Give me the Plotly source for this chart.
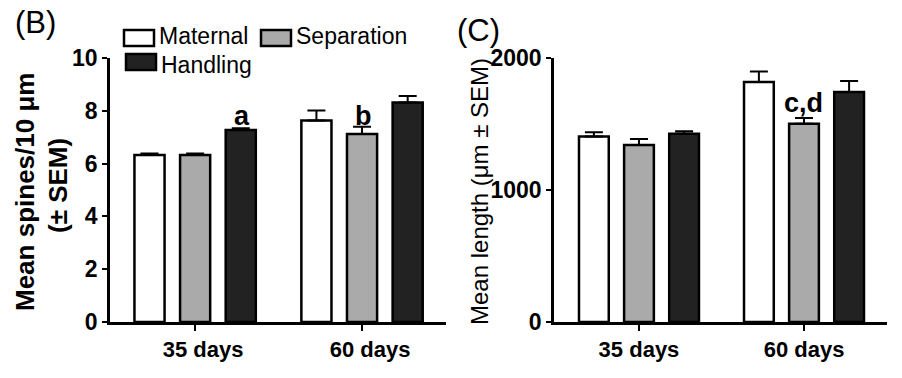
import plotly.graph_objects as go

ages = ["35 days", "60 days"]
groups = ["Maternal", "Separation", "Handling"]
colors = ["#ffffff", "#aaaaaa", "#222222"]

spines = {"Maternal": [6.33, 7.63], "Separation": [6.33, 7.12], "Handling": [7.27, 8.31]}
spines_sem = {"Maternal": [0.05, 0.38], "Separation": [0.05, 0.28], "Handling": [0.07, 0.25]}

length = {"Maternal": [1405, 1818], "Separation": [1340, 1502], "Handling": [1426, 1742]}
length_sem = {"Maternal": [32, 80], "Separation": [46, 43], "Handling": [20, 84]}

spine_ticks = [0, 2, 4, 6, 8, 10]
length_ticks = [0, 1000, 2000]

FONT = "Liberation Sans, Arial, sans-serif"

fig = go.Figure()
for g, c in zip(groups, colors):
    fig.add_trace(go.Bar(
        x=ages, y=spines[g], name=g, marker=dict(color=c, line=dict(color="black", width=2.5)),
        error_y=dict(type="data", symmetric=False, array=spines_sem[g], arrayminus=[0, 0],
                     color="black", thickness=2, width=9),
        xaxis="x", yaxis="y", showlegend=False))
for g, c in zip(groups, colors):
    fig.add_trace(go.Bar(
        x=ages, y=length[g], name=g, marker=dict(color=c, line=dict(color="black", width=2.5)),
        error_y=dict(type="data", symmetric=False, array=length_sem[g], arrayminus=[0, 0],
                     color="black", thickness=2, width=9),
        xaxis="x2", yaxis="y2", showlegend=False))

W, H = 902, 378
def px(x): return x / W
def py(y): return (H - y) / H

def axis_common(size):
    return dict(showline=True, linecolor="black", linewidth=2.5, ticks="outside",
                tickcolor="black", tickwidth=2, showgrid=False, zeroline=False, automargin=False,
                tickfont=dict(family=FONT, size=size, color="black", weight="bold"))

fig.update_layout(
    width=W, height=H, margin=dict(l=0, r=0, t=0, b=0, autoexpand=False),
    paper_bgcolor="white", plot_bgcolor="white",
    barmode="group", bargap=0.18, bargroupgap=0.34,
    xaxis=dict(domain=[px(110), px(446)], range=[-0.51, 1.503], ticklen=6, anchor="y",
               ticklabelshift=8, **axis_common(22)),
    yaxis=dict(domain=[py(322), py(58)], range=[0, 10], tickvals=spine_ticks, ticklen=5, anchor="x", **axis_common(23)),
    xaxis2=dict(domain=[px(554), px(887)], range=[-0.515, 1.503], ticklen=6, anchor="y2", **axis_common(22)),
    yaxis2=dict(domain=[py(322), py(58)], range=[0, 2000], tickvals=length_ticks, ticklen=5, anchor="x2", **axis_common(23)),
)

ann = []
def A(x, y, text, size, bold=False, angle=0, xanchor="center", yanchor="middle"):
    ann.append(dict(x=x, y=y, xref="paper", yref="paper", text=text, showarrow=False, textangle=angle,
                    xanchor=xanchor, yanchor=yanchor,
                    font=dict(family=FONT, size=size, color="black", weight="bold" if bold else "normal")))

A(px(13), py(22), "(B)", 31, xanchor="left")
A(px(455), py(30), "(C)", 31, xanchor="left")
A(px(25), py(192), "Mean spines/10 μm", 26, bold=True, angle=-90)
A(px(58), py(186), "(± SEM)", 26, bold=True, angle=-90)
A(px(479), py(191), "Mean length (μm ± SEM)", 24, angle=-90)

# significance letters
A(px(242), py(116), "a", 27, bold=True)
A(px(363), py(116), "b", 27, bold=True)
A(px(803), py(103), "c,d", 27, bold=True)

# legend (manual)
shapes = []
leg = [(groups[0], colors[0], 124, 30, 36), (groups[1], colors[1], 261, 30, 36), (groups[2], colors[2], 126, 54, 65)]
for name, col, x0, y0, ty in leg:
    shapes.append(dict(type="rect", xref="paper", yref="paper", x0=px(x0), x1=px(x0 + 30),
                       y0=py(y0), y1=py(y0 + 16), fillcolor=col, line=dict(color="black", width=2.5)))
    A(px(x0 + 33), py(ty), name, 23, xanchor="left")

fig.update_layout(annotations=ann, shapes=shapes)
fig.write_html("out.html", post_script="document.body.style.margin='0';",
               config={"displayModeBar": False})
